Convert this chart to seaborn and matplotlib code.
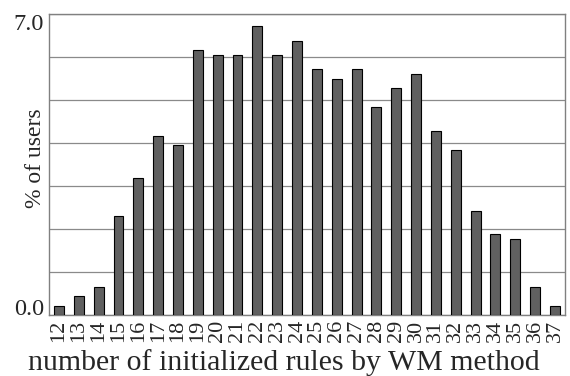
import matplotlib
matplotlib.use("Agg")
import matplotlib.pyplot as plt
import seaborn as sns
import pandas as pd

rules = [str(i) for i in range(12, 38)]
pct = [0.23, 0.45, 0.67, 2.32, 3.19, 4.17, 3.96, 6.16, 6.04, 6.04, 6.71, 6.04, 6.37,
       5.72, 5.49, 5.72, 4.83, 5.27, 5.61, 4.28, 3.85, 2.42, 1.88, 1.77, 0.67, 0.23]
ytick_vals = [0, 1, 2, 3, 4, 5, 6, 7]
ytick_labels = ["0.0", "", "", "", "", "", "", "7.0"]

df = pd.DataFrame({"rules": rules, "pct": pct})

sns.set_style("white")
plt.rcParams["font.family"] = "Liberation Serif"

fig = plt.figure(figsize=(5.7, 3.76), dpi=100)
ax = fig.add_axes([0.086, 0.161, 0.905, 0.802])

sns.barplot(data=df, x="rules", y="pct", color="#606060", saturation=1,
            width=0.5, edgecolor="black", linewidth=0.8, ax=ax, zorder=3)

ax.set_ylim(0, 7)
ax.set_xlim(-0.5, len(rules) - 0.5)
ax.set_yticks(ytick_vals)
ax.set_yticklabels(ytick_labels, fontsize=17.5, fontfamily="Liberation Serif")
ylbls = ax.get_yticklabels()
ylbls[0].set_verticalalignment("baseline")
ylbls[-1].set_verticalalignment("top")
ax.yaxis.grid(True, color="#8a8a8a", linewidth=0.9, zorder=0)
ax.set_axisbelow(True)
ax.tick_params(axis="x", labelrotation=90, labelsize=16, length=0, pad=3)
ax.tick_params(axis="y", length=0, pad=3.5)
for lbl in ax.get_xticklabels():
    lbl.set_verticalalignment("top")
    lbl.set_fontfamily("Liberation Serif")
ax.set_xlabel("number of initialized rules by WM method", fontsize=21.5,
              fontfamily="Liberation Serif")
ax.xaxis.set_label_coords(0.455, -0.112)
ax.xaxis.label.set_verticalalignment("top")
ax.set_ylabel("% of users", fontsize=17, fontfamily="Liberation Serif")
ax.yaxis.set_label_coords(-0.005, 0.52)
for s in ax.spines.values():
    s.set_color("#808080")
    s.set_linewidth(1.0)

fig.savefig("out.png", dpi=100)
